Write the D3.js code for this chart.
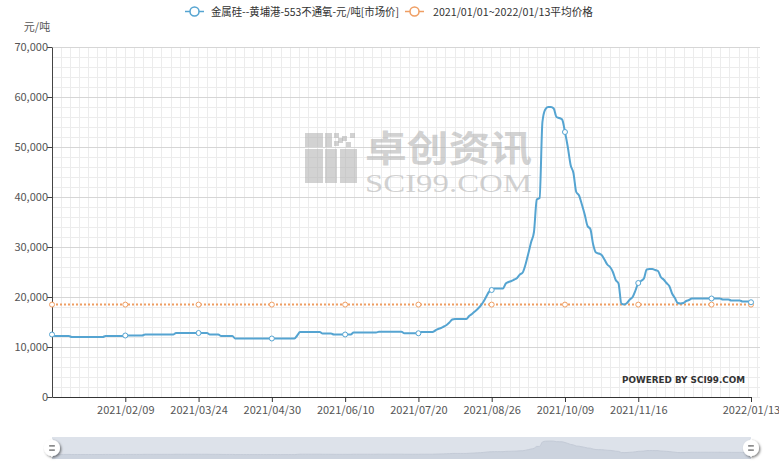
<!DOCTYPE html>
<html><head><meta charset="utf-8">
<script src="https://cdn.jsdelivr.net/npm/d3@7/dist/d3.min.js"></script>
<style>
body{margin:0;background:#fff;}
svg{display:block;font-family:"Noto Sans CJK SC","Microsoft YaHei",sans-serif;}
</style>
</head><body>
<svg id="c" width="779" height="468"></svg>
<script>
// ---------------- DATA ----------------
const dates = [
"2021/01/04","2021/01/05","2021/01/06","2021/01/07","2021/01/08","2021/01/11","2021/01/12","2021/01/13","2021/01/14","2021/01/15",
"2021/01/18","2021/01/19","2021/01/20","2021/01/21","2021/01/22","2021/01/25","2021/01/26","2021/01/27","2021/01/28","2021/01/29",
"2021/02/01","2021/02/02","2021/02/03","2021/02/04","2021/02/05","2021/02/08","2021/02/09","2021/02/10","2021/02/18","2021/02/19",
"2021/02/22","2021/02/23","2021/02/24","2021/02/25","2021/02/26","2021/03/01","2021/03/02","2021/03/03","2021/03/04","2021/03/05",
"2021/03/08","2021/03/09","2021/03/10","2021/03/11","2021/03/12","2021/03/15","2021/03/16","2021/03/17","2021/03/18","2021/03/19",
"2021/03/22","2021/03/23","2021/03/24","2021/03/25","2021/03/26","2021/03/29","2021/03/30","2021/03/31","2021/04/01","2021/04/02",
"2021/04/06","2021/04/07","2021/04/08","2021/04/09","2021/04/12","2021/04/13","2021/04/14","2021/04/15","2021/04/16","2021/04/19",
"2021/04/20","2021/04/21","2021/04/22","2021/04/23","2021/04/26","2021/04/27","2021/04/28","2021/04/29","2021/04/30","2021/05/06",
"2021/05/07","2021/05/10","2021/05/11","2021/05/12","2021/05/13","2021/05/14","2021/05/17","2021/05/18","2021/05/19","2021/05/20",
"2021/05/21","2021/05/24","2021/05/25","2021/05/26","2021/05/27","2021/05/28","2021/05/31","2021/06/01","2021/06/02","2021/06/03",
"2021/06/04","2021/06/07","2021/06/08","2021/06/09","2021/06/10","2021/06/15","2021/06/16","2021/06/17","2021/06/18","2021/06/21",
"2021/06/22","2021/06/23","2021/06/24","2021/06/25","2021/06/28","2021/06/29","2021/06/30","2021/07/01","2021/07/02","2021/07/05",
"2021/07/06","2021/07/07","2021/07/08","2021/07/09","2021/07/12","2021/07/13","2021/07/14","2021/07/15","2021/07/16","2021/07/19",
"2021/07/20","2021/07/21","2021/07/22","2021/07/26","2021/07/27","2021/07/28","2021/07/29","2021/07/30","2021/08/02","2021/08/03",
"2021/08/04","2021/08/05","2021/08/06","2021/08/09","2021/08/10","2021/08/11","2021/08/12","2021/08/13","2021/08/16","2021/08/17",
"2021/08/18","2021/08/19","2021/08/20","2021/08/23","2021/08/24","2021/08/25","2021/08/26","2021/08/27","2021/08/30","2021/08/31",
"2021/09/01","2021/09/02","2021/09/03","2021/09/06","2021/09/07","2021/09/08","2021/09/09","2021/09/10","2021/09/13","2021/09/14",
"2021/09/15","2021/09/16","2021/09/17","2021/09/18","2021/09/22","2021/09/23","2021/09/24","2021/09/27","2021/09/28","2021/09/29",
"2021/09/30","2021/10/08","2021/10/09","2021/10/11","2021/10/12","2021/10/13","2021/10/14","2021/10/15","2021/10/18","2021/10/19",
"2021/10/20","2021/10/21","2021/10/22","2021/10/25","2021/10/26","2021/10/27","2021/10/28","2021/10/29","2021/11/02","2021/11/03",
"2021/11/04","2021/11/05","2021/11/08","2021/11/09","2021/11/10","2021/11/11","2021/11/12","2021/11/15","2021/11/16","2021/11/17",
"2021/11/18","2021/11/19","2021/11/22","2021/11/23","2021/11/24","2021/11/25","2021/11/26","2021/11/29","2021/11/30","2021/12/01",
"2021/12/02","2021/12/03","2021/12/06","2021/12/07","2021/12/08","2021/12/09","2021/12/10","2021/12/13","2021/12/14","2021/12/15",
"2021/12/16","2021/12/17","2021/12/20","2021/12/21","2021/12/22","2021/12/23","2021/12/24","2021/12/27","2021/12/28","2021/12/29",
"2021/12/30","2022/01/04","2022/01/05","2022/01/06","2022/01/07","2022/01/10","2022/01/11","2022/01/12","2022/01/13"
];
const prices = [
12500,12200,12200,12200,12200,12200,12200,12000,12000,12000,
12000,12000,12000,12000,12000,12000,12000,12000,12000,12200,
12200,12200,12200,12200,12200,12200,12300,12300,12300,12300,
12300,12300,12300,12500,12500,12500,12500,12500,12500,12500,
12500,12500,12500,12500,12800,12800,12800,12800,12800,12800,
12800,12800,12800,12800,12800,12800,12500,12500,12500,12500,
12200,12200,12200,12200,12200,11700,11700,11700,11700,11700,
11700,11700,11700,11700,11700,11700,11700,11700,11700,11700,
11700,11700,11700,11700,11700,11700,11700,12300,13000,13000,
13000,13000,13000,13000,13000,13000,12700,12700,12700,12700,
12500,12500,12500,12500,12500,12500,12500,12900,12900,12900,
12900,12900,12900,12900,12900,12900,13050,13050,13050,13050,
13050,13050,13050,13050,13050,12750,12750,12750,12750,12750,
12750,13000,13000,13000,13000,13000,13300,13600,13800,14100,
14400,14900,15500,15600,15600,15600,15600,15600,16200,16600,
17100,17600,18200,19000,20000,21000,21400,21700,21700,21700,
21700,22700,23000,23200,23500,23800,24500,24900,26500,28700,
31000,33000,39500,39800,55000,57500,58000,58000,57700,56000,
55800,55500,53000,50000,46400,44800,41000,40300,38500,36500,
34200,33600,30500,28900,28700,28400,27500,26500,26000,25000,
23400,22700,18700,18500,18800,19500,20000,21300,22800,23200,
23700,25500,25600,25600,25400,25200,24000,23500,22800,22200,
20700,19800,18800,18700,18800,19200,19400,19700,19700,19700,
19700,19700,19700,19700,19700,19700,19700,19700,19500,19500,
19500,19300,19300,19300,19300,19100,19100,19100,18950
];
const avgPrice = 18480;
const yTicks = [0,10000,20000,30000,40000,50000,60000,70000];
const xTickLabels = ["2021/02/09","2021/03/24","2021/04/30","2021/06/10","2021/07/20","2021/08/26","2021/10/09","2021/11/16","2022/01/13"];
const seriesNames = ["金属硅--黄埔港-553不通氧-元/吨[市场价]","2021/01/01~2022/01/13平均价格"];
const unitLabel = "元/吨";
const symbolInterval = 26;

// ---------------- CHART ----------------
const M = {l:52, r:751, t:47, b:397};
const blue = "#55a4d1", orange = "#ef9e63";
const svg = d3.select("#c");

const x = d3.scalePoint().domain(dates).range([M.l, M.r]);
const y = d3.scaleLinear().domain([0,70000]).range([M.b, M.t]);

// background grid (minor)
const grid = svg.append("g");
const step = (x(dates[symbolInterval]) - x(dates[0])) / 8;
for (let gx = M.l; gx <= 760; gx += step) {
  grid.append("line").attr("x1", gx).attr("x2", gx).attr("y1", M.t).attr("y2", M.b)
    .attr("stroke", "#ececec").attr("stroke-width", 1).attr("shape-rendering","crispEdges");
}
const minorY = d3.range(0, 70001, 2000);
grid.selectAll(".mh").data(minorY).join("line")
  .attr("x1", M.l).attr("x2", 760).attr("y1", d => Math.round(y(d))+0.5).attr("y2", d => Math.round(y(d))+0.5)
  .attr("stroke", "#ececec");
grid.selectAll(".mj").data(yTicks.slice(1)).join("line")
  .attr("x1", M.l).attr("x2", 760).attr("y1", d => Math.round(y(d))+0.5).attr("y2", d => Math.round(y(d))+0.5)
  .attr("stroke", "#d6d6d6");

// watermark
const wm = svg.append("g").attr("fill", "#b4b4b4").attr("fill-opacity", 0.6);
wm.append("rect").attr("x",305).attr("y",133).attr("width",18).attr("height",14);
wm.append("rect").attr("x",325).attr("y",133).attr("width",7).attr("height",14);
[[334,133],[342,136],[350,133],[334,141],[346,142],[338,138]].forEach(p=>
  wm.append("rect").attr("x",p[0]).attr("y",p[1]).attr("width",5).attr("height",5));
wm.append("rect").attr("x",305).attr("y",149).attr("width",18).attr("height",34);
wm.append("rect").attr("x",325).attr("y",149).attr("width",12).attr("height",34);
wm.append("rect").attr("x",340).attr("y",149).attr("width",17).attr("height",34);
wm.append("text").attr("x",365).attr("y",162).attr("font-size",36).attr("font-weight","bold")
  .attr("textLength",167).attr("lengthAdjust","spacingAndGlyphs").text("卓创资讯");
wm.append("text").attr("x",365).attr("y",192).attr("font-size",25)
  .attr("font-family","'Liberation Serif','DejaVu Serif',serif")
  .attr("textLength",167).attr("lengthAdjust","spacingAndGlyphs").text("SCI99.COM");

// axes
const yAxis = svg.append("g").attr("transform",`translate(${M.l},0)`)
  .call(d3.axisLeft(y).tickValues(yTicks).tickFormat(d3.format(",")).tickSize(5).tickSizeOuter(0));
yAxis.select(".domain").attr("stroke","#444");
yAxis.selectAll(".tick line").attr("stroke","#444");
yAxis.selectAll("text").attr("fill","#555").attr("font-size",11).attr("x",-4)
  .attr("font-family","'Noto Sans CJK SC',sans-serif");

const xAxis = svg.append("g").attr("transform",`translate(0,${M.b})`)
  .call(d3.axisBottom(x).tickValues(xTickLabels).tickSize(5).tickSizeOuter(0));
xAxis.select(".domain").attr("stroke","#333");
xAxis.selectAll(".tick line").attr("stroke","#333");
xAxis.selectAll("text").attr("fill","#555").attr("font-size",11).attr("y",9)
  .attr("font-family","'Noto Sans CJK SC',sans-serif");

svg.append("text").attr("x",37).attr("y",31).attr("text-anchor","middle")
  .attr("font-size",11).attr("fill","#555").text(unitLabel);

// average line
const idxSym = dates.map((d,i)=>i).filter(i => i % symbolInterval === 0 || i === dates.length-1);
svg.append("line").attr("x1",x(dates[0])).attr("x2",x(dates[dates.length-1]))
  .attr("y1",y(avgPrice)).attr("y2",y(avgPrice))
  .attr("stroke",orange).attr("stroke-width",2).attr("stroke-dasharray","2,2");
svg.selectAll(".am").data(idxSym).join("circle")
  .attr("cx",i=>x(dates[i])).attr("cy",y(avgPrice)).attr("r",2.5)
  .attr("fill","#fff").attr("stroke",orange).attr("stroke-width",1);

// price line
const line = d3.line().x((d,i)=>x(dates[i])).y(d=>y(d)).curve(d3.curveMonotoneX);
svg.append("path").datum(prices).attr("d",line).attr("fill","none")
  .attr("stroke",blue).attr("stroke-width",2).attr("stroke-linejoin","round");
svg.selectAll(".pm").data(idxSym).join("circle")
  .attr("cx",i=>x(dates[i])).attr("cy",i=>y(prices[i])).attr("r",2.5)
  .attr("fill","#fff").attr("stroke",blue).attr("stroke-width",1);

// powered by
svg.append("text").attr("x",622).attr("y",383).attr("font-size",8.5).attr("font-weight","bold")
  .attr("font-family","'DejaVu Sans',sans-serif").attr("fill","#333")
  .attr("textLength",123).attr("lengthAdjust","spacingAndGlyphs").text("POWERED BY SCI99.COM");

// legend
const lg = svg.append("g").attr("font-size",11).attr("fill","#333");
[[185, 211, 188, blue],[405, 433, 160, orange]].forEach((c,k)=>{
  lg.append("line").attr("x1",c[0]).attr("x2",c[0]+19).attr("y1",11.5).attr("y2",11.5)
    .attr("stroke",c[3]).attr("stroke-width",1.5);
  lg.append("circle").attr("cx",c[0]+9.5).attr("cy",11.5).attr("r",4.5)
    .attr("fill","#fff").attr("stroke",c[3]).attr("stroke-width",1.5);
  lg.append("text").attr("x",c[1]).attr("y",15.5).attr("fill","#333")
    .attr("textLength",c[2]).attr("lengthAdjust","spacingAndGlyphs").text(seriesNames[k]);
});

// data zoom slider
const sz = {t:437, b:459};
const ys = d3.scaleLinear().domain([0,72000]).range([sz.b-1, sz.t]);
svg.append("rect").attr("x",M.l).attr("y",sz.t).attr("width",M.r-M.l).attr("height",sz.b-sz.t)
  .attr("fill","#dde2ea");
const area = d3.area().x((d,i)=>x(dates[i])).y0(sz.b).y1(d=>ys(d)).curve(d3.curveMonotoneX);
svg.append("path").datum(prices).attr("d",area).attr("fill","#ccd3de");
svg.append("path").datum(prices).attr("d",d3.line().x((d,i)=>x(dates[i])).y(d=>ys(d)).curve(d3.curveMonotoneX))
  .attr("fill","none").attr("stroke","#c4cbd7").attr("stroke-width",1);

const defs = svg.append("defs");
const f = defs.append("filter").attr("id","sh").attr("x","-50%").attr("y","-50%").attr("width","200%").attr("height","200%");
f.append("feDropShadow").attr("dx",1.5).attr("dy",1.5).attr("stdDeviation",1.5).attr("flood-color","#000").attr("flood-opacity",0.5);
const hp = "M10.7,11.9v-1.3H9.3v1.3c-4.9,0.3-8.8,4.4-8.8,9.4c0,5,3.9,9.1,8.8,9.4v1.3h1.3v-1.3c4.9-0.3,8.8-4.4,8.8-9.4C19.5,16.3,15.6,12.2,10.7,11.9z M13.3,24.4H6.7V23h6.6V24.4z M13.3,19.6H6.7v-1.4h6.6V19.6z";
[M.l, M.r].forEach(hx=>{
  const s = 0.85;
  svg.append("path").attr("d",hp).attr("fill","#fff").attr("filter","url(#sh)")
    .attr("transform",`translate(${hx-10*s},${(sz.t+sz.b)/2-21.3*s}) scale(${s})`);
  svg.append("path").attr("d","M13.3,24.4H6.7V23h6.6V24.4z M13.3,19.6H6.7v-1.4h6.6V19.6z").attr("fill","#777")
    .attr("transform",`translate(${hx-10*s},${(sz.t+sz.b)/2-21.3*s}) scale(${s})`);
});
</script>
</body></html>
